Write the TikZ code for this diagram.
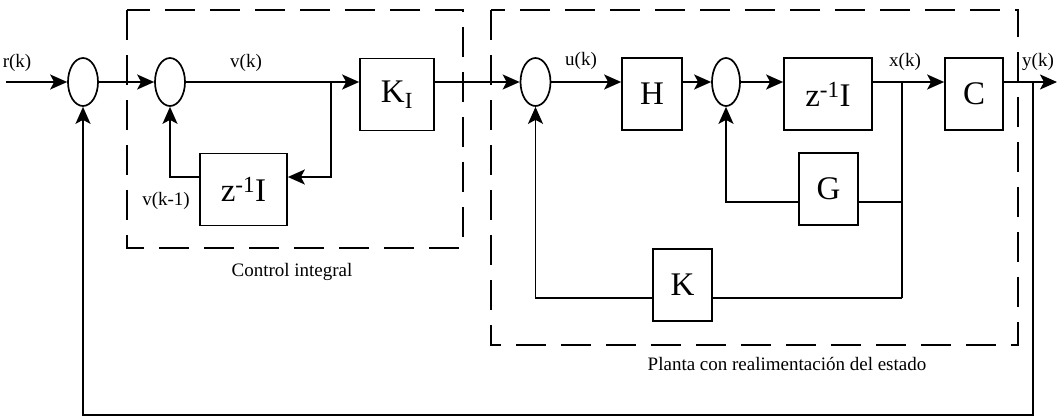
\documentclass[tikz,border=0pt]{standalone}
\usepackage{fontspec}
\setmainfont{Liberation Serif}
\usetikzlibrary{arrows.meta,shapes.geometric}

\begin{document}
\begin{tikzpicture}[x=1pt, y=-1pt, line width=1.7pt,
  sumnode/.style={draw, ellipse, minimum width=30pt, minimum height=48pt, inner sep=0pt},
  blocknode/.style={draw, rectangle, inner sep=0pt, minimum height=72pt, font=\fontsize{33}{33}\selectfont},
  sig/.style={-{Stealth[length=17pt,width=15pt,inset=4pt]}},
  lbl/.style={font=\fontsize{19}{19}\selectfont, inner sep=0pt},
  boxlbl/.style={font=\fontsize{19}{19}\selectfont, inner sep=0pt},
  dashbox/.style={line width=1.8pt, dash pattern=on 30pt off 15pt}]
\useasboundingbox (0,0) rectangle (1057,418);
% --- Control integral ---
\draw[dashbox] (127,10) rectangle (463,248);
\node[boxlbl] (lblci) at (292,272) {Control integral};
\node[sumnode] (s1) at (83,82) {};
\node[sumnode] (s2) at (170,82) {};
\node[blocknode, minimum width=74pt] (ki) at (397,94.5) {K\textsubscript{I}};
\node[blocknode, minimum width=87pt] (zi1) at (243.5,189.5) {z\textsuperscript{-1}I};
% --- Planta con realimentacion del estado ---
\draw[dashbox] (491,10) rectangle (1018,345);
\node[boxlbl] (lblpl) at (787,364) {Planta con realimentación del estado};
\node[sumnode] (s3) at (535.5,82) {};
\node[blocknode, minimum width=60pt] (h) at (652,94) {H};
\node[sumnode, minimum width=28pt] (s4) at (726,82) {};
\node[blocknode, minimum width=88pt] (zi2) at (828,94) {z\textsuperscript{-1}I};
\node[blocknode, minimum width=59pt] (g) at (828.5,189) {G};
\node[blocknode, minimum width=59pt] (k) at (682.5,285) {K};
\node[blocknode, minimum width=58pt] (c) at (974,94) {C};
% --- signal labels ---
\node[lbl] (lr) at (17,63) {r(k)};
\node[lbl] (lv) at (246,63) {v(k)};
\node[lbl] (lv1) at (166,201) {v(k-1)};
\node[lbl] (lu) at (581,61) {u(k)};
\node[lbl] (lx) at (905,62) {x(k)};
\node[lbl] (ly) at (1038,62) {y(k)};
% --- connectors ---
\coordinate (rin) at (6,82);
\coordinate (vb) at (331,82);
\coordinate (vd) at (331,177);
\coordinate (xb) at (902,82);
\coordinate (xg) at (902,202);
\coordinate (xk) at (902,298);
\coordinate (yb) at (1033,82);
\coordinate (yd) at (1033,415);
\coordinate (yout) at (1057,82);
\draw[sig] (rin) -- (s1.west);
\draw[sig] (s1.east) -- (s2.west);
\draw[sig] (s2.east) -- (s2.east -| ki.west);
\draw[sig] (vb) -- (vd) -- (vd -| zi1.east);
\draw[sig] (vd -| zi1.west) -| (s2.south);
\draw[sig] (ki.east |- s3.west) -- (s3.west);
\draw[sig] (s3.east) -- (s3.east -| h.west);
\draw[sig] (h.east |- s4.west) -- (s4.west);
\draw[sig] (s4.east) -- (s4.east -| zi2.west);
\draw[sig] (zi2.east |- s4.east) -- (c.west |- s4.east);
\draw (xb) -- (xk);
\draw (xg) -- (xg -| g.east);
\draw[sig] (xg -| g.west) -| (s4.south);
\draw (xk) -- (xk -| k.east);
\draw[sig] (xk -| k.west) -| (s3.south);
\draw[sig] (c.east |- yout) -- (yout);
\draw[sig] (yb) -- (yd) -| (s1.south);
\end{tikzpicture}
\end{document}
